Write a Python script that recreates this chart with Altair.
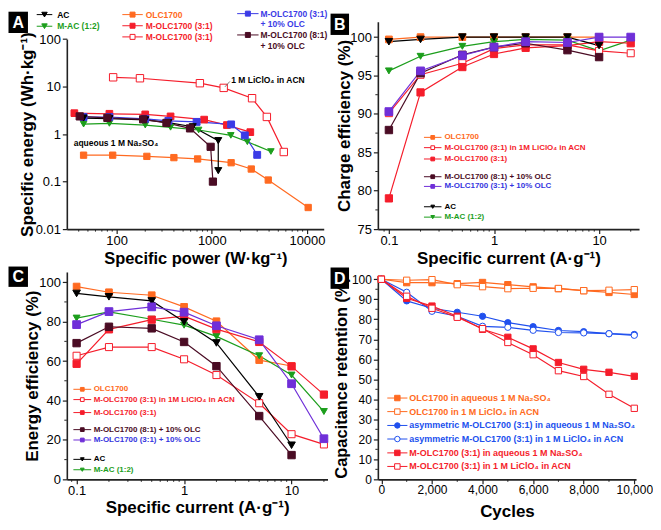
import altair as alt
import pandas as pd

FONT = "Liberation Sans"

BLACK = "#000000"
GREEN = "#1c9e1c"
ORANGE = "#ff6a21"
RED = "#f51d2b"
BLUE_A = "#3b3be6"
PURPLE = "#6f2fd8"
BROWN = "#4a0c24"
BLUE_D = "#2050ee"
BLUE_TXT = "#3535e0"

# ---------------- Panel A : Ragone ----------------
A_AC_P = [45, 84, 200, 350, 631, 1170, 1170]
A_AC_E = [2.18, 2.12, 2.0, 1.75, 1.43, 0.73, 0.17]
A_MAC_P = [45, 84, 200, 369, 728, 1585, 2366, 4180]
A_MAC_E = [1.62, 1.68, 1.55, 1.39, 1.22, 0.94, 0.69, 0.43]
A_OLC_P = [45, 91, 208, 400, 710, 1597, 2600, 3920, 10300]
A_OLC_E = [0.36, 0.36, 0.34, 0.32, 0.30, 0.25, 0.184, 0.108, 0.0285]
A_M31_P = [36, 84, 200, 369, 832, 1443, 2540]
A_M31_E = [2.76, 2.68, 2.60, 2.36, 2.02, 1.55, 1.10]
A_M31ACN_P = [92, 176, 750, 1334, 2650, 3790, 5710]
A_M31ACN_E = [15.7, 15.0, 11.8, 9.4, 5.7, 2.3, 0.42]
A_M31OLC_P = [45, 84, 200, 350, 693, 1597, 2224, 3000]
A_M31OLC_E = [2.29, 2.29, 2.10, 1.90, 1.81, 1.60, 0.94, 0.366]
A_M81OLC_P = [41, 80, 190, 334, 591, 973, 1028]
A_M81OLC_E = [2.36, 2.20, 2.05, 1.72, 1.32, 0.54, 0.10]

# ---------------- Panels B / C ----------------
CURRENT = [0.1, 0.2, 0.5, 1, 2, 5, 10, 20]
B_OLC = [99.7, 100.0, 100.0, 100.0, 100.0, 100.0, 100.0]
B_M31ACN = [90.1, 95.1, 96.6, 98.5, 99.0, 99.0, 98.2, 97.9]
B_M31 = [79.0, 92.8, 96.1, 97.8, 98.6, 98.9, 99.4, 99.2]
B_M81OLC = [87.9, 95.3, 97.7, 98.7, 99.2, 98.3, 97.4]
B_M31OLC = [90.3, 95.6, 97.6, 98.7, 99.4, 99.3, 100.0, 100.0]
B_AC = [99.4, 99.7, 100.0, 100.0, 100.0, 100.0, 98.9]
B_MAC = [95.6, 97.5, 98.8, 99.4, 99.7, 99.6, 98.2, 99.6]

C_OLC = [97.8, 94.9, 93.4, 87.5, 80.2, 60.5, 57.5, 32.7]
C_M31ACN = [62.7, 67.1, 67.1, 60.9, 52.9, 38.6, 22.9, 17.7]
C_M31 = [58.6, 76.1, 81.0, 82.8, 76.2, 69.7, 57.3, 43.0]
C_M81OLC = [69.1, 77.4, 76.6, 69.7, 57.4, 32.1, 12.3]
C_M31OLC = [78.5, 85.1, 87.5, 84.8, 77.9, 70.8, 48.5, 20.6]
C_AC = [94.3, 92.6, 90.5, 79.9, 69.2, 41.9, 17.3]
C_MAC = [81.8, 85.0, 81.2, 78.2, 72.5, 62.7, 52.9, 34.4]

# ---------------- Panel D ----------------
CYCLES = [0, 1000, 2000, 3000, 4000, 5000, 6000, 7000, 8000, 9000, 10000]
D_OLC_AQ = [100, 98.3, 98.3, 97.8, 98.4, 97.3, 96.2, 95.3, 94.3, 93.4, 92.4]
D_OLC_ACN = [100, 99.5, 99.8, 97.3, 96.3, 95.3, 95.5, 95.4, 94.3, 94.5, 94.8]
D_ASY_AQ = [100, 89.2, 85.5, 83.5, 81.5, 78.3, 76.3, 74.4, 73.8, 72.8, 72.4]
D_ASY_ACN = [100, 93.5, 84.0, 81.5, 76.5, 76.0, 74.5, 73.4, 73.2, 72.8, 72.0]
D_M31_AQ = [100, 90.5, 86.6, 81.5, 75.0, 71.0, 65.2, 58.4, 55.0, 53.5, 51.5]
D_M31_ACN = [100, 91.5, 85.5, 81.0, 75.3, 68.4, 62.3, 54.3, 51.4, 42.5, 35.5]

# ---------------- layout helpers ----------------
W, H = 262, 208
ORIG = {"A": (66.5, 21.0), "B": (378.5, 21.0), "C": (66.5, 272.0), "D": (378.5, 272.0)}


def rx(p, x):
    return round(8 + 0.976 * x - ORIG[p][0], 2)


def ry(p, y):
    return round(8 + 0.972 * y - ORIG[p][1], 2)


def one(t=""):
    return alt.Chart(pd.DataFrame({"t": [t]}))


def frame(keys, xs, ys):
    rows = []
    for k, xv, yv in zip(keys, xs, ys):
        for i, (a, b) in enumerate(zip(xv, yv)):
            rows.append({"series": k, "x": a, "y": b, "i": i})
    return pd.DataFrame(rows)


def data_layers(df, keys, colors, shapes, fills, sizes, X, Y):
    cs = alt.Scale(domain=keys, range=colors)
    base = alt.Chart(df)
    lines = base.mark_line(strokeWidth=1.2).encode(
        x=X, y=Y,
        color=alt.Color("series:N", scale=cs, legend=None),
        detail="series:N",
        order=alt.Order("i:Q"),
    )
    pts = base.mark_point(filled=True, strokeWidth=1, opacity=1).encode(
        x=X, y=Y,
        shape=alt.Shape("series:N", scale=alt.Scale(domain=keys, range=shapes), legend=None),
        fill=alt.Fill("series:N", scale=alt.Scale(domain=keys, range=fills), legend=None),
        stroke=alt.Stroke("series:N", scale=cs, legend=None),
        size=alt.Size("series:N", scale=alt.Scale(domain=keys, range=sizes), legend=None),
    )
    return [lines, pts]


def minor_x(vals, X):
    return alt.Chart(pd.DataFrame({"x": vals})).mark_rule(color="#222", strokeWidth=1).encode(
        x=X, y=alt.value(H), y2=alt.value(H + 2.5))


def minor_y(vals, Y):
    return alt.Chart(pd.DataFrame({"y": vals})).mark_rule(color="#222", strokeWidth=1).encode(
        y=Y, x=alt.value(0), x2=alt.value(-2.5))


def legend_entry(p, lines, color, tcolor, shape, fill, lx1, lx2, tx, y, dy, fs, ms):
    out = []
    yy = ry(p, y)
    out.append(one().mark_rule(color=color, strokeWidth=1).encode(
        x=alt.value(rx(p, lx1)), x2=alt.value(rx(p, lx2)), y=alt.value(yy)))
    out.append(one().mark_point(shape=shape, filled=True, fill=fill, stroke=color,
                                strokeWidth=1, size=ms, opacity=1).encode(
        x=alt.value(rx(p, (lx1 + lx2) / 2)), y=alt.value(yy)))
    for k, ln in enumerate(lines):
        out.append(one(ln).mark_text(align="left", baseline="middle", font=FONT,
                                     fontWeight="bold", fontSize=fs, color=tcolor).encode(
            x=alt.value(rx(p, tx)), y=alt.value(ry(p, y + k * dy)), text="t:N"))
    return out


def letter(p, s, x1, y1, x2, y2):
    box = one().mark_rect(color="black").encode(
        x=alt.value(rx(p, x1)), x2=alt.value(rx(p, x2)),
        y=alt.value(ry(p, y1)), y2=alt.value(ry(p, y2)))
    txt = one(s).mark_text(font=FONT, fontWeight="bold", fontSize=16, color="white",
                           align="center", baseline="middle").encode(
        x=alt.value(rx(p, (x1 + x2) / 2)), y=alt.value(ry(p, (y1 + y2) / 2 + 0.5)), text="t:N")
    return [box, txt]


def xaxis(title, values, fmt, ty, fs=13, tsize=17):
    return alt.Axis(title=title, values=values, format=fmt, titleY=ty, titleBaseline="middle",
                    labelFlush=False, labelOverlap=False, labelFontSize=fs, titleFontSize=tsize,
                    labelPadding=1)


def yaxis(title, values, fmt, tx, fs=13, tsize=17):
    return alt.Axis(title=title, values=values, format=fmt, titleX=tx, titleAngle=270,
                    titleBaseline="middle", labelFlush=False, labelOverlap=False,
                    labelFontSize=fs, titleFontSize=tsize)


# ---------------- Panel A ----------------
A_keys = ["OLC", "MAC", "M31", "M31OLC", "AC", "M81OLC", "M31ACN"]
A_df = frame(A_keys,
             [A_OLC_P, A_MAC_P, A_M31_P, A_M31OLC_P, A_AC_P, A_M81OLC_P, A_M31ACN_P],
             [A_OLC_E, A_MAC_E, A_M31_E, A_M31OLC_E, A_AC_E, A_M81OLC_E, A_M31ACN_E])
XA = alt.X("x:Q", scale=alt.Scale(type="log", domain=[30, 15000], range=[0, 257.7]),
           axis=xaxis("Specific power (W·kg⁻¹)", [100, 1000, 10000], "~g", 29, tsize=16.5))
YA = alt.Y("y:Q", scale=alt.Scale(type="log", domain=[0.01, 100], range=[H, ry("A", 31.3)]),
           axis=yaxis("Specific energy (Wh·kg⁻¹)", [0.01, 0.1, 1, 10, 100], "~g", -39))
A_layers = data_layers(
    A_df, A_keys,
    [ORANGE, GREEN, RED, BLUE_A, BLACK, BROWN, RED],
    ["square", "triangle-down", "square", "square", "triangle-down", "square", "square"],
    [ORANGE, GREEN, RED, BLUE_A, BLACK, BROWN, "white"],
    [40, 55, 40, 40, 55, 40, 40], XA, YA)
A_layers.append(minor_x([40, 50, 60, 70, 80, 90, 200, 300, 400, 500, 600, 700, 800, 900,
                         2000, 3000, 4000, 5000, 6000, 7000, 8000, 9000], XA))
A_layers.append(one().mark_rect(opacity=0).encode(
    x=alt.value(-58.5), x2=alt.value(-57.5), y=alt.value(-13), y2=alt.value(-12)))
A_layers += letter("A", "A", 0, 3, 20, 25)
fa = 8.5
A_layers += legend_entry("A", ["AC"], BLACK, BLACK, "triangle-down", BLACK, 29, 45, 50, 6, 0, fa, 30)
A_layers += legend_entry("A", ["M-AC (1:2)"], GREEN, GREEN, "triangle-down", GREEN, 29, 45, 50, 18, 0, fa, 30)
A_layers += legend_entry("A", ["OLC1700"], ORANGE, ORANGE, "square", ORANGE, 117, 138, 141, 6, 0, fa, 25)
A_layers += legend_entry("A", ["M-OLC1700 (3:1)"], RED, RED, "square", RED, 117, 138, 141, 17.5, 0, fa, 25)
A_layers += legend_entry("A", ["M-OLC1700 (3:1)"], RED, RED, "square", "white", 117, 138, 141, 29, 0, fa, 25)
A_layers += legend_entry("A", ["M-OLC1700 (3:1)", "+ 10% OLC"], BLUE_A, BLUE_A, "square", BLUE_A,
                         235, 257, 259, 5, 11, fa, 25)
A_layers += legend_entry("A", ["M-OLC1700 (8:1)", "+ 10% OLC"], BROWN, BROWN, "square", BROWN,
                         235, 257, 259, 27, 11, fa, 25)
A_layers.append(one("aqueous 1 M Na₂SO₄").mark_text(
    align="left", baseline="middle", font=FONT, fontWeight="bold", fontSize=fa, color="black").encode(
    x=alt.value(rx("A", 67)), y=alt.value(ry("A", 138)), text="t:N"))
A_layers.append(one("1 M LiClO₄ in ACN").mark_text(
    align="left", baseline="middle", font=FONT, fontWeight="bold", fontSize=fa, color="black").encode(
    x=alt.value(rx("A", 229)), y=alt.value(ry("A", 73.5)), text="t:N"))
A_layers.append(one().mark_rule(color="#555", strokeWidth=0.8).encode(
    x=alt.value(rx("A", 222.5)), x2=alt.value(rx("A", 227.5)),
    y=alt.value(ry("A", 80.5)), y2=alt.value(ry("A", 75))))
panelA = alt.layer(*A_layers).properties(width=W, height=H)

# ---------------- Panel B ----------------
BC_keys = ["OLC", "MAC", "M31ACN", "M31", "M81OLC", "AC", "M31OLC"]
BC_colors = [ORANGE, GREEN, RED, RED, BROWN, BLACK, PURPLE]
BC_shapes = ["square", "triangle-down", "square", "square", "square", "triangle-down", "square"]
BC_fills = [ORANGE, GREEN, "white", RED, BROWN, BLACK, PURPLE]
BC_sizes = [45, 60, 45, 45, 45, 60, 45]
BC_x = [CURRENT[:7], CURRENT, CURRENT, CURRENT, CURRENT[:7], CURRENT[:7], CURRENT]
B_df = frame(BC_keys, BC_x, [B_OLC, B_MAC, B_M31ACN, B_M31, B_M81OLC, B_AC, B_M31OLC])
XB = alt.X("x:Q", scale=alt.Scale(type="log", domain=[0.0785, 24], range=[0, 262]),
           axis=xaxis("Specific current (A·g⁻¹)", [0.1, 1, 10], "~g", 29))
YB = alt.Y("y:Q", scale=alt.Scale(domain=[75, 102], range=[H, 0]),
           axis=yaxis("Charge efficiency (%)", [75, 80, 85, 90, 95, 100], "d", -33))
LOG_MINOR = [0.09, 0.2, 0.3, 0.4, 0.5, 0.6, 0.7, 0.8, 0.9, 2, 3, 4, 5, 6, 7, 8, 9, 20]
B_layers = data_layers(B_df, BC_keys, BC_colors, BC_shapes, BC_fills, BC_sizes, XB, YB)
B_layers.append(minor_x(LOG_MINOR, XB))
B_layers.append(minor_y([77.5, 82.5, 87.5, 92.5, 97.5], YB))
B_layers += letter("B", "B", 331, 5, 350, 27)


def bc_legend(p, lx1, lx2, tx, rows):
    out = []
    specs = [
        (["OLC1700"], ORANGE, ORANGE, "square", ORANGE),
        (["M-OLC1700 (3:1) in  1M LiClO₄ in ACN"], RED, RED, "square", "white"),
        (["M-OLC1700 (3:1)"], RED, RED, "square", RED),
        (["M-OLC1700 (8:1) + 10% OLC"], BROWN, BROWN, "square", BROWN),
        (["M-OLC1700 (3:1) + 10% OLC"], PURPLE, BLUE_TXT, "square", PURPLE),
        (["AC"], BLACK, BLACK, "triangle-down", BLACK),
        (["M-AC (1:2)"], GREEN, GREEN, "triangle-down", GREEN),
    ]
    for (lab, col, tcol, shp, fil), yv in zip(specs, rows):
        out += legend_entry(p, lab, col, tcol, shp, fil, lx1, lx2, tx, yv, 0, 8, 14)
    return out


B_layers += bc_legend("B", 427, 445, 448, [132.7, 143.3, 155, 173.3, 183.3, 204.3, 215])
panelB = alt.layer(*B_layers).properties(width=W, height=H)

# ---------------- Panel C ----------------
C_df = frame(BC_keys, BC_x, [C_OLC, C_MAC, C_M31ACN, C_M31, C_M81OLC, C_AC, C_M31OLC])
XC = alt.X("x:Q", scale=alt.Scale(type="log", domain=[0.0811, 21.6], range=[0, 261.5]),
           axis=xaxis("Specific current (A·g⁻¹)", [0.1, 1, 10], "~g", 28.5))
YC = alt.Y("y:Q", scale=alt.Scale(domain=[0, 105.2], range=[H, 0]),
           axis=yaxis("Energy efficiency (%)", [0, 20, 40, 60, 80, 100], "d", -34))
C_layers = data_layers(C_df, BC_keys, BC_colors, BC_shapes, BC_fills, BC_sizes, XC, YC)
C_layers.append(minor_x(LOG_MINOR, XC))
C_layers.append(minor_y([10, 30, 50, 70, 90], YC))
C_layers += letter("C", "C", 0, 266, 20, 287)
C_layers += bc_legend("C", 66.7, 85, 87.5, [392.7, 403.3, 416.7, 434.3, 445, 465, 475.7])
panelC = alt.layer(*C_layers).properties(width=W, height=H)

# ---------------- Panel D ----------------
D_keys = ["OLC_AQ", "OLC_ACN", "ASY_AQ", "ASY_ACN", "M31_AQ", "M31_ACN"]
D_df = frame(D_keys, [CYCLES] * 6, [D_OLC_AQ, D_OLC_ACN, D_ASY_AQ, D_ASY_ACN, D_M31_AQ, D_M31_ACN])
XD = alt.X("x:Q", scale=alt.Scale(domain=[-140, 10070], range=[0, 259]),
           axis=xaxis("Cycles", [0, 2000, 4000, 6000, 8000, 10000], ",d", 32, fs=12))
YD = alt.Y("y:Q", scale=alt.Scale(domain=[0, 102], range=[H, 3.3]),
           axis=yaxis("Capacitance retention (%)", list(range(0, 101, 10)), "d", -36, fs=12, tsize=16.5))
D_layers = data_layers(
    D_df, D_keys,
    [ORANGE, ORANGE, BLUE_D, BLUE_D, RED, RED],
    ["square", "square", "circle", "circle", "square", "square"],
    [ORANGE, "white", BLUE_D, "white", RED, "white"],
    [40, 40, 55, 55, 40, 40], XD, YD)
D_layers.append(minor_x([1000, 3000, 5000, 7000, 9000], XD))
D_layers.append(minor_y([5, 15, 25, 35, 45, 55, 65, 75, 85, 95], YD))
D_layers += letter("D", "D", 331, 267, 350, 289)
D_specs = [
    (["OLC1700 in aqueous 1 M Na₂SO₄"], ORANGE, "square", ORANGE),
    (["OLC1700 in 1 M LiClO₄ in ACN"], ORANGE, "square", "white"),
    (["asymmetric M-OLC1700 (3:1) in aqueous 1 M Na₂SO₄"], BLUE_D, "circle", BLUE_D),
    (["asymmetric M-OLC1700 (3:1) in 1 M LiClO₄ in ACN"], BLUE_D, "circle", "white"),
    (["M-OLC1700 (3:1) in aqueous 1 M Na₂SO₄"], RED, "square", RED),
    (["M-OLC1700 (3:1) in 1 M LiClO₄ in ACN"], RED, "square", "white"),
]
for (lab, col, shp, fil), yv in zip(D_specs, [401.7, 415.7, 430, 444, 458.3, 472.3]):
    D_layers += legend_entry("D", lab, col, col, shp, fil, 389.3, 410, 412, yv, 0, 9, 30)
panelD = alt.layer(*D_layers).properties(width=W, height=H)

chart = alt.concat(
    panelA, panelB, panelC, panelD,
    columns=2, spacing={"row": 43, "column": 50}, bounds="flush", align="all",
).resolve_scale(
    color="independent", fill="independent", stroke="independent",
    shape="independent", size="independent",
).properties(padding=0).configure_view(stroke=None).configure_axis(
    labelFont=FONT, titleFont=FONT, labelFontSize=13, titleFontSize=17, titleFontWeight="bold",
    labelColor="black", titleColor="black", domainColor="#222", tickColor="#222",
    domainWidth=1.6, tickWidth=1.2, tickSize=4.5, labelPadding=2, grid=False,
)

chart.save("out.html", embed_options={"renderer": "svg", "actions": False})
